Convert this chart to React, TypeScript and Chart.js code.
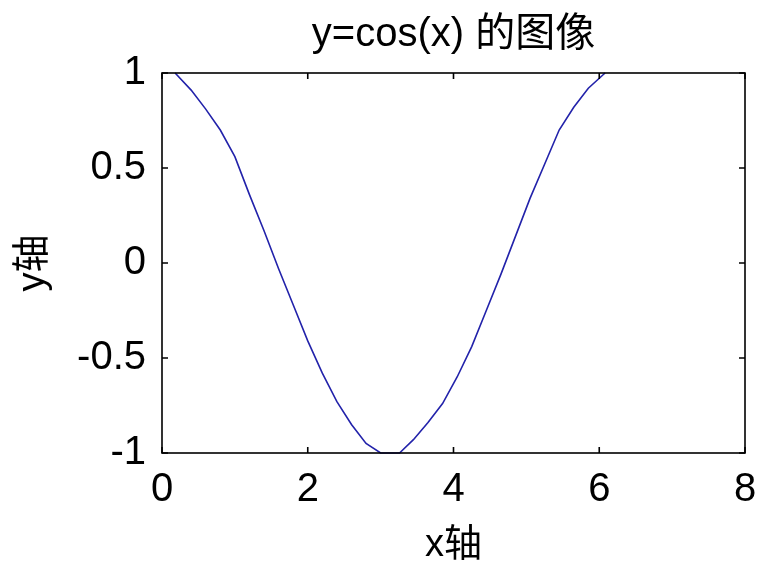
import React, { useEffect, useRef } from "react";
import { Chart, registerables } from "chart.js";

Chart.register(...registerables);

// Values
const xValues = [0.18, 0.4, 0.6, 0.8, 1.0, 1.2, 1.4, 1.6, 1.8, 2.0, 2.2, 2.4, 2.6, 2.8, 3.0, 3.26, 3.45, 3.65, 3.85, 4.05, 4.25, 4.45, 4.65, 4.85, 5.05, 5.25, 5.45, 5.65, 5.85, 6.08];
const yValues = [1.0, 0.91, 0.81, 0.7, 0.56, 0.36, 0.17, -0.03, -0.22, -0.41, -0.58, -0.73, -0.85, -0.95, -1.0, -1.0, -0.93, -0.84, -0.74, -0.6, -0.44, -0.25, -0.06, 0.14, 0.34, 0.52, 0.7, 0.82, 0.92, 1.0];
const xTickValues = [0, 2, 4, 6, 8];
const yTickValues = [-1, -0.5, 0, 0.5, 1];
const titleText = "y=cos(x) 的图像";
const xAxisLabel = "x轴";
const yAxisLabel = "y轴";

const FONT = "'Liberation Sans', Arial, 'Noto Sans CJK SC', sans-serif";

const titleOverArea = {
  id: "titleOverArea",
  afterLayout(chart: any) {
    const tb = chart.titleBlock;
    if (tb) {
      tb.left = chart.chartArea.left;
      tb.right = chart.chartArea.right;
    }
  },
};

const frameTicks = {
  id: "frameTicks",
  afterDraw(chart: any) {
    const { ctx, chartArea: a, scales } = chart;
    const x = scales.x;
    const y = scales.y;
    const L = 6;
    ctx.save();
    ctx.strokeStyle = "#000";
    ctx.lineWidth = 1.6;
    ctx.strokeRect(a.left, a.top, a.right - a.left, a.bottom - a.top);
    ctx.beginPath();
    x.ticks.forEach((t: any) => {
      const px = x.getPixelForValue(t.value);
      ctx.moveTo(px, a.bottom);
      ctx.lineTo(px, a.bottom - L);
      ctx.moveTo(px, a.top);
      ctx.lineTo(px, a.top + L);
    });
    y.ticks.forEach((t: any) => {
      const py = y.getPixelForValue(t.value);
      ctx.moveTo(a.left, py);
      ctx.lineTo(a.left + L, py);
      ctx.moveTo(a.right, py);
      ctx.lineTo(a.right - L, py);
    });
    ctx.stroke();
    ctx.restore();
  },
};

export default function App() {
  const canvasRef = useRef<HTMLCanvasElement | null>(null);

  useEffect(() => {
    document.body.style.margin = "0";
    document.body.style.background = "#fff";
    const canvas = canvasRef.current;
    if (!canvas) return;
    const points = xValues.map((x, i) => ({ x, y: yValues[i] }));
    const chart = new Chart(canvas, {
      type: "line",
      data: {
        datasets: [
          {
            data: points,
            borderColor: "#2222aa",
            borderWidth: 1.6,
            pointRadius: 0,
            tension: 0,
            fill: false,
          },
        ],
      },
      options: {
        responsive: false,
        animation: false,
        events: [],
        clip: false as any,
        layout: { padding: { left: 0, right: 0, top: 0, bottom: 0 } },
        plugins: {
          legend: { display: false },
          tooltip: { enabled: false },
          title: {
            display: true,
            text: titleText,
            color: "#000",
            font: { family: FONT, size: 40, weight: "normal", lineHeight: 1.2 },
            padding: { top: 11, bottom: 14 },
          },
        },
        scales: {
          x: {
            type: "linear",
            min: 0,
            max: 8,
            afterBuildTicks: (s: any) => {
              s.ticks = xTickValues.map((v) => ({ value: v }));
            },
            afterFit: (s: any) => {
              s.height = 110;
              s.paddingRight = 14;
              s.paddingLeft = 0;
            },
            ticks: {
              color: "#000",
              font: { family: FONT, size: 40, lineHeight: 1.2 },
              padding: 13,
              maxRotation: 0,
              callback: (v: any) => String(v),
            },
            grid: { display: false, drawTicks: false },
            border: { display: false },
            title: {
              display: true,
              text: xAxisLabel,
              color: "#000",
              font: { family: FONT, size: 38, lineHeight: 0.9 },
              padding: { top: 0, bottom: 0 },
            },
          },
          y: {
            type: "linear",
            min: -1,
            max: 1,
            afterBuildTicks: (s: any) => {
              s.ticks = yTickValues.map((v) => ({ value: v }));
            },
            afterFit: (s: any) => {
              s.width = 162;
            },
            ticks: {
              color: "#000",
              font: { family: FONT, size: 40, lineHeight: 1.2 },
              padding: 16,
              callback: (v: any) => String(v),
            },
            grid: { display: false, drawTicks: false },
            border: { display: false },
            title: {
              display: true,
              text: yAxisLabel,
              color: "#000",
              font: { family: FONT, size: 38, lineHeight: 1.0 },
              padding: { top: 15, bottom: 0 },
            },
          },
        },
      },
      plugins: [titleOverArea, frameTicks],
    });
    return () => chart.destroy();
  }, []);

  return (
    <div style={{ width: 759, height: 563, background: "#fff" }}>
      <canvas ref={canvasRef} width={759} height={563} style={{ display: "block" }} />
    </div>
  );
}
